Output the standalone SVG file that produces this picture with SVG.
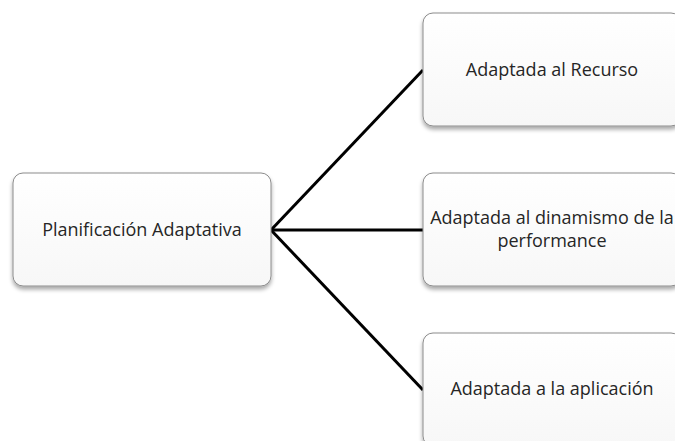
<svg xmlns="http://www.w3.org/2000/svg" width="675" height="441" viewBox="0 0 675 441">
<style>
.box{fill:url(#g);stroke:#8c8c8c;stroke-width:1;filter:url(#sh)}
.t{font-family:"Open Sans","Noto Sans",sans-serif;font-size:18px;fill:#262626;text-anchor:middle}
.c{stroke:#000;stroke-width:3;fill:none}
</style>
<defs>
<linearGradient id="g" x1="0" y1="0" x2="0" y2="1">
<stop offset="0" stop-color="#ffffff"/>
<stop offset="1" stop-color="#f7f7f7"/>
</linearGradient>
<filter id="sh" x="-10%" y="-10%" width="120%" height="130%">
<feGaussianBlur in="SourceAlpha" stdDeviation="2"/>
<feOffset dx="0" dy="3" result="b"/>
<feComponentTransfer><feFuncA type="linear" slope="0.35"/></feComponentTransfer>
<feMerge><feMergeNode/><feMergeNode in="SourceGraphic"/></feMerge>
</filter>
</defs>
<g id="connectors">
<line class="c" x1="271" y1="230" x2="423" y2="70"/>
<line class="c" x1="271" y1="230" x2="423" y2="230"/>
<line class="c" x1="271" y1="230" x2="423" y2="390"/>
</g>
<g id="n0">
<rect class="box" x="13" y="173" width="258" height="113" rx="10"/>
<text class="t" x="142" y="236">Planificación Adaptativa</text>
</g>
<g id="n1">
<rect class="box" x="423" y="13" width="258" height="113" rx="10"/>
<text class="t" x="552" y="76">Adaptada al Recurso</text>
</g>
<g id="n2">
<rect class="box" x="423" y="173" width="258" height="113" rx="10"/>
<text class="t" x="552" y="224">Adaptada al dinamismo de la</text>
<text class="t" x="552" y="247">performance</text>
</g>
<g id="n3">
<rect class="box" x="423" y="333" width="258" height="113" rx="10"/>
<text class="t" x="552" y="395">Adaptada a la aplicación</text>
</g>
</svg>
